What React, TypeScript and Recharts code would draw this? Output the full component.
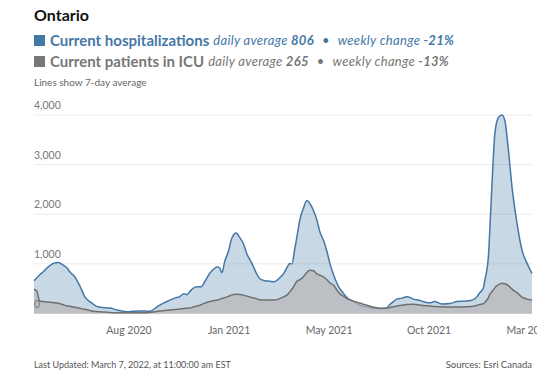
import { Area, AreaChart, CartesianGrid, XAxis, YAxis } from "recharts";

// Days since 2020-04-09 (first record); last record is 2022-03-07.
const DAYS = [
  0, 4, 8, 13, 20, 27, 34, 41, 46, 50, 57, 64, 71, 77, 81, 87, 92, 99, 106,
  116, 123, 130, 139, 148, 155, 162, 169, 176, 183, 190, 197, 204, 210, 214,
  218, 223, 228, 234, 239, 246, 252, 256, 260, 263, 267, 272, 277, 283, 288,
  293, 298, 305, 311, 316, 323, 330, 336, 344, 350, 356, 358, 361, 365, 368,
  372, 377, 382, 386, 391, 396, 400, 405, 410, 414, 420, 424, 428, 433, 438,
  447, 456, 466, 476, 484, 493, 498, 503, 508, 515, 522, 531, 538, 545, 554,
  561, 571, 582, 592, 606, 615, 620, 624, 629, 631, 636, 638, 641, 645, 650,
  655, 659, 664, 669, 676, 683, 690, 697,
];

const HOSPITALIZATIONS = [
  660, 720, 780, 840, 940, 1010, 1030, 975, 920, 840, 740, 560, 340, 250, 210,
  150, 130, 115, 110, 70, 50, 37, 45, 50, 48, 45, 100, 170, 220, 270, 310, 340,
  400, 380, 440, 510, 540, 540, 640, 810, 900, 940, 910, 820, 1050, 1250, 1520,
  1620, 1530, 1410, 1200, 1010, 820, 700, 660, 650, 640, 720, 820, 975, 1010,
  1000, 1300, 1545, 1880, 2120, 2275, 2220, 2080, 1880, 1650, 1480, 1250, 1015,
  750, 610, 500, 410, 320, 240, 165, 130, 105, 95, 105, 180, 240, 290, 310, 340,
  290, 270, 240, 215, 240, 190, 200, 240, 250, 280, 340, 420, 520, 670, 1150,
  1700, 2610, 3620, 3950, 4000, 3890, 3290, 2550, 1820, 1275, 1015, 806,
];

const ICU = [
  490, 450, 250, 240, 230, 220, 205, 175, 155, 145, 125, 105, 85, 65, 50, 40,
  33, 28, 22, 17, 15, 15, 15, 15, 17, 20, 35, 50, 60, 70, 80, 90, 100, 105, 110,
  130, 150, 175, 210, 240, 260, 270, 290, 305, 320, 345, 375, 390, 385, 370,
  350, 320, 300, 275, 270, 270, 272, 300, 340, 400, 440, 490, 580, 650, 680,
  740, 830, 870, 860, 800, 770, 740, 680, 620, 560, 470, 400, 350, 300, 250,
  210, 165, 125, 105, 105, 120, 135, 150, 165, 180, 185, 175, 160, 150, 140,
  135, 130, 130, 135, 145, 165, 180, 200, 225, 320, 390, 440, 520, 580, 610,
  600, 560, 490, 420, 330, 290, 265,
];

const Y_TICKS = [0, 1000, 2000, 3000, 4000];
const X_TICK_DAYS = [133, 273, 413, 553, 693];
const X_TICK_LABELS = ["Aug 2020", "Jan 2021", "May 2021", "Oct 2021", "Mar 2022"];

const FONT = "Lato, 'Open Sans', sans-serif";
const BLUE = "#4577a6";
const GRAY = "#777777";
const PLOT_LEFT = 34;

const data = DAYS.map((day, i) => ({
  day,
  hosp: HOSPITALIZATIONS[i],
  icu: ICU[i],
}));

// Labels sit left-aligned just above their gridline, inside the plot.
function YTick({ y, payload }: any) {
  return (
    <text
      x={PLOT_LEFT}
      y={y - 6}
      textAnchor="start"
      fill="#777"
      fontSize={10.5}
      fontFamily={FONT}
    >
      {Number(payload.value).toLocaleString("en-US")}
    </text>
  );
}

function XTick({ x, y, payload }: any) {
  const i = X_TICK_DAYS.indexOf(payload.value);
  return (
    <text
      x={x}
      y={y + 12}
      textAnchor="middle"
      fill="#666"
      fontSize={10.5}
      fontFamily={FONT}
    >
      {X_TICK_LABELS[i]}
    </text>
  );
}

function LegendRow({
  color,
  label,
  avg,
  change,
  top,
}: {
  color: string;
  label: string;
  avg: number;
  change: string;
  top: number;
}) {
  return (
    <div
      style={{
        position: "absolute",
        left: PLOT_LEFT,
        top,
        display: "flex",
        alignItems: "center",
        whiteSpace: "nowrap",
        color,
      }}
    >
      <span
        style={{
          width: 11,
          height: 11,
          background: color,
          display: "inline-block",
          marginRight: 5,
        }}
      />
      <span style={{ fontWeight: 700, fontSize: 15 }}>{label}</span>
      <span
        style={{
          fontStyle: "italic",
          fontSize: 13,
          marginLeft: 4,
          letterSpacing: 0.3,
        }}
      >
        daily average <b>{avg}</b>
        <span style={{ margin: "0 8px" }}>•</span>
        weekly change <b>{change}</b>
      </span>
    </div>
  );
}

export default function App() {
  return (
    <div
      style={{
        position: "absolute",
        left: 0,
        top: 0,
        width: 554,
        height: 381,
        background: "#fff",
        fontFamily: FONT,
      }}
    >
      <div
        style={{
          position: "absolute",
          left: PLOT_LEFT,
          top: 5,
          fontSize: 16,
          fontWeight: 700,
          color: "#111",
        }}
      >
        Ontario
      </div>
      <LegendRow
        color={BLUE}
        label="Current hospitalizations"
        avg={806}
        change="-21%"
        top={31}
      />
      <LegendRow
        color={GRAY}
        label="Current patients in ICU"
        avg={265}
        change="-13%"
        top={52}
      />
      <div
        style={{
          position: "absolute",
          left: PLOT_LEFT,
          top: 76,
          fontSize: 10,
          color: "#666",
        }}
      >
        Lines show 7-day average
      </div>

      <div style={{ position: "absolute", left: 0, top: 0 }}>
        <AreaChart
          width={537}
          height={381}
          data={data}
          margin={{ top: 115, right: 5, bottom: 47.5, left: 0 }}
        >
          <CartesianGrid
            vertical={false}
            stroke="#ebebeb"
            strokeWidth={1}
          />
          <XAxis
            type="number"
            dataKey="day"
            domain={[0, 697]}
            ticks={X_TICK_DAYS}
            interval={0}
            axisLine={false}
            tickLine={false}
            height={20}
            tick={<XTick />}
          />
          <YAxis
            type="number"
            domain={[0, 4000]}
            ticks={Y_TICKS}
            interval={0}
            width={PLOT_LEFT}
            axisLine={false}
            tickLine={false}
            tick={<YTick />}
          />
          <Area
            type="monotone"
            dataKey="hosp"
            stroke={BLUE}
            strokeWidth={1.5}
            fill={BLUE}
            fillOpacity={0.29}
            isAnimationActive={false}
            dot={false}
            activeDot={false}
          />
          <Area
            type="monotone"
            dataKey="icu"
            stroke="#6f6f6f"
            strokeWidth={1.5}
            fill="#b6b6b6"
            fillOpacity={0.7}
            isAnimationActive={false}
            dot={false}
            activeDot={false}
          />
        </AreaChart>
      </div>

      <div
        style={{
          position: "absolute",
          left: PLOT_LEFT,
          top: 359,
          fontSize: 9,
          color: "#555",
        }}
      >
        Last Updated: March 7, 2022, at 11:00:00 am EST
      </div>
      <div
        style={{
          position: "absolute",
          right: 22,
          top: 359,
          fontSize: 9.5,
          color: "#555",
        }}
      >
        Sources: Esri Canada
      </div>
    </div>
  );
}
